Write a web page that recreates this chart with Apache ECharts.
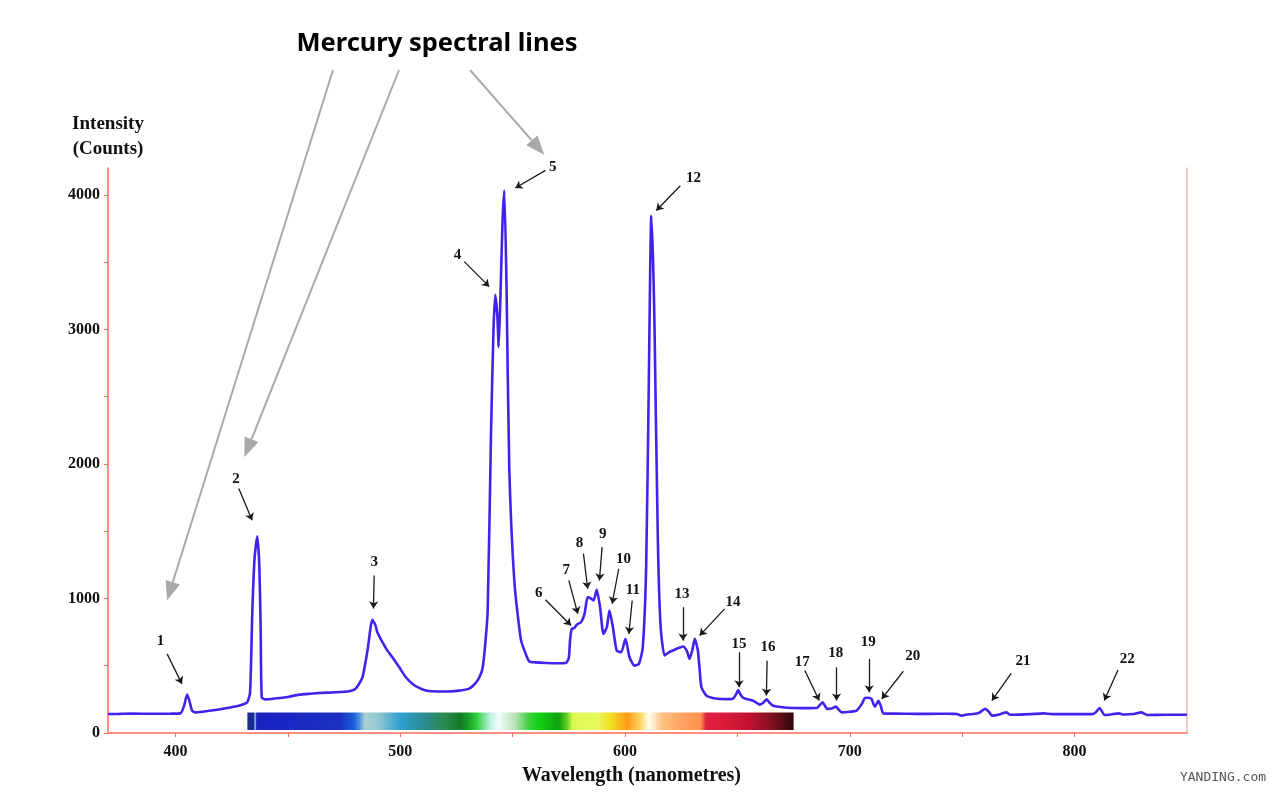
<!DOCTYPE html>
<html>
<head>
<meta charset="utf-8">
<title>Mercury spectral lines</title>
<script src="https://cdn.jsdelivr.net/npm/echarts@6/dist/echarts.min.js"></script>
<style>
  html, body {margin: 0; padding: 0; background: #fff;}
  #chart {width: 1287px; height: 805px;}
</style>
</head>
<body>
<div id="chart"></div>
<script>
// spectrum: wavelength (nm) and intensity (counts)
const wavelength = [
  370, 375, 380.7, 390, 398, 402.2, 403.8, 405.2, 406.2, 407.4, 408.9, 412, 417.8, 423, 428.2, 431.9,
  433.2, 434.2, 435.2, 436.4, 437.3, 437.9, 438.4, 440, 445, 450, 455, 460, 465, 470, 477.2, 480.2,
  483.2, 485.5, 487.6, 489, 489.8, 492.1, 494, 496.5, 499.5, 502.5, 505.5, 508.4, 511, 514.3, 520,
  526.2, 530.7, 533.5, 535.2, 536.6, 537.6, 538.9, 540.4, 541.5, 542.3, 543.2, 543.8, 544.5, 545.5,
  546.3, 547.3, 548.5, 550.8, 553.7, 556, 557.4, 560, 565, 570, 573.8, 575, 575.6, 576.3, 577.5,
  578.3, 579, 580.5, 582, 583.4, 584.9, 586, 587.4, 588.9, 590.4, 591.9, 593.1, 594.6, 596.3, 598.3,
  600.2, 602, 604.2, 606.2, 607.9, 609.4, 610.5, 611.7, 612.5, 613.1, 614.6, 615.8, 617.6, 619.5,
  621.3, 623.5, 625.8, 627.5, 628.7, 630, 631, 632.4, 633.3, 634, 636.2, 639, 642.1, 645, 648, 649.5,
  650.3, 651.2, 652.5, 654, 657, 660, 661.5, 663, 664.3, 665.9, 670, 674.8, 680, 685.2, 686.5, 687.9,
  689, 690, 692, 693.8, 695, 696.4, 700, 703, 705.5, 706.7, 708.2, 709.7, 710.5, 711.2, 712.7, 713.8,
  714.9, 720, 730, 740, 746, 747.6, 749.8, 752, 754.9, 757.5, 760.2, 762, 763.2, 766, 769.6, 771,
  772.8, 780, 786.2, 790, 800, 805.5, 808, 809.5, 811.1, 812.2, 813.2, 816, 819.6, 822, 826.3, 829.6,
  832.3, 840, 850
];
const intensity = [
  141, 142, 144, 143, 144, 146, 200, 285, 240, 166, 153, 158, 171, 186, 203, 228,
  300, 900, 1300, 1462, 1250, 800, 265, 250, 258, 268, 285, 292, 298, 302, 310, 330,
  414, 620, 841, 800, 749, 675, 620, 563, 490, 414, 365, 335, 318, 310, 308,
  315, 330, 370, 414, 480, 620, 905, 2243, 3000, 3257, 3100, 2870, 3200, 3800,
  4032, 3310, 1975, 1119, 692, 580, 531, 525, 520, 518, 522, 560, 700, 774, 780,
  800, 811, 824, 886, 1010, 998, 985, 1065, 935, 737, 786, 911, 786, 613, 600,
  700, 563, 501, 514, 637, 1233, 2500, 3845, 3500, 3043, 1440, 800, 576, 600,
  613, 630, 643, 610, 551, 620, 700, 613, 450, 340, 278, 260, 253, 252, 255, 290,
  320, 290, 262, 253, 240, 211, 225, 250, 225, 203, 192, 186, 185, 186, 205, 228,
  200, 179, 182, 196, 175, 153, 158, 166, 220, 261, 262, 253, 215, 196, 240, 200,
  146, 144, 142, 143, 142, 141, 129, 138, 141, 150, 179, 155, 129, 135, 153, 138,
  136, 140, 146, 140, 140, 141, 140, 155, 186, 160, 134, 138, 146, 138, 141, 153,
  134, 136, 136
];

// numbered lines: where the number sits and where its arrow starts and ends
const peakNames = ['1','2','3','4','5','6','7','8','9','10','11','12','13','14','15','16','17','18','19','20','21','22'];
const labelX = [393.4, 426.9, 488.4, 525.5, 567.8, 561.6, 573.8, 579.7, 590.1, 599.3, 603.5, 630.5, 625.3, 648, 650.7, 663.6, 678.8, 693.7, 708.2, 728, 777, 823.4];
const labelY = [680, 1886, 1268, 3554, 4207, 1039, 1214, 1412, 1482, 1296, 1065, 4128, 1035, 972, 663, 637, 526, 593, 675, 568, 533, 551];
const arrowFromX = [396.3, 428.2, 488.4, 528.5, 564.6, 564.6, 575, 581.5, 589.8, 597.2, 603.2, 624.6, 625.8, 644.3, 650.7, 663.2, 680, 694.1, 708.6, 723.8, 771.8, 819.3];
const arrowFromY = [588, 1817, 1171, 3504, 4182, 990, 1134, 1333, 1382, 1221, 985, 4068, 935, 923, 600, 538, 464, 488, 551, 459, 444, 469];
const arrowToX = [402.9, 434.1, 488.1, 539.6, 551.2, 576, 579, 583.4, 588.6, 594.3, 601.7, 613.9, 625.8, 633.2, 650.7, 662.9, 686.4, 694.1, 708.6, 714.2, 763.2, 813.2];
const arrowToY = [365, 1581, 926, 3318, 4051, 799, 886, 1072, 1134, 961, 737, 3884, 687, 724, 340, 278, 241, 241, 302, 253, 241, 241];

// big grey arrows from the title to lines 1, 2 and 5 (tips in data units)
const mercuryTipX = [396.3, 430.7, 564.1];
const mercuryTipY = [986, 2052, 4299];
const mercuryTailPx = [[333, 70], [399, 70], [470, 70]];

// axis ticks
const xTicks = [400, 450, 500, 550, 600, 650, 700, 750, 800];
const xLabels = [400, 500, 600, 700, 800];
const yTicks = [0, 500, 1000, 1500, 2000, 2500, 3000, 3500, 4000];
const yLabels = [0, 1000, 2000, 3000, 4000];

// colour strip of the visible spectrum under the curve
const stripFrom = [432, 22];
const stripTo = [675, 152];
const stripStops = [0, 0.012, 0.014, 0.017, 0.03, 0.17, 0.195, 0.205, 0.215, 0.24, 0.28, 0.33, 0.36, 0.39, 0.405, 0.42, 0.445, 0.46, 0.49, 0.515, 0.535, 0.57, 0.585, 0.595, 0.64, 0.665, 0.695, 0.72, 0.735, 0.76, 0.8, 0.83, 0.84, 0.88, 0.92, 0.96, 1];
const stripColors = ['#1c2a8c', '#1c2a9a', '#9fd8f0', '#1c24b8', '#1a22c4', '#1c30c0', '#1a60da', '#4a90e0', '#a8d0d0', '#90c8d0', '#30a0d0', '#2a8a88', '#2a8a50', '#127a24', '#18a028', '#30d040', '#c0f0e0', '#f0ffff', '#b8e0b8', '#40d040', '#10d010', '#10a010', '#60d020', '#d8f850', '#e8f860', '#f0e020', '#ff9a18', '#ffd860', '#fffff0', '#ffc080', '#ffa060', '#ff9050', '#e02040', '#d81a3a', '#c01030', '#801020', '#300808'];

const serif = '"Liberation Serif", "Times New Roman", serif';
const chart = echarts.init(document.getElementById('chart'));

const spectrum = wavelength.map((w, i) => [w, intensity[i]]);
const arrows = peakNames.map((n, i) => [
  {coord: [arrowFromX[i], arrowFromY[i]]},
  {coord: [arrowToX[i], arrowToY[i]]}
]);
const labels = peakNames.map((n, i) => [labelX[i], labelY[i], n]);
const strip = new echarts.graphic.LinearGradient(0, 0, 1, 0,
  stripStops.map((s, i) => ({offset: s, color: stripColors[i]})));

chart.setOption({
  animation: false,
  backgroundColor: '#fff',
  grid: {left: 108, right: 100, top: 168, bottom: 72, containLabel: false},
  xAxis: {
    type: 'value', min: 370, max: 850,
    name: 'Wavelength (nanometres)', nameLocation: 'middle', nameGap: 33,
    nameTextStyle: {fontFamily: serif, fontWeight: 'bold', fontSize: 20, color: '#111', padding: [0, 32, 0, 0]},
    axisLine: {show: true, lineStyle: {color: '#ff6b5e', width: 1.5}},
    axisTick: {show: true, length: 4, customValues: xTicks, lineStyle: {color: '#ff6b5e'}},
    axisLabel: {customValues: xLabels, margin: 11, fontFamily: serif, fontWeight: 'bold', fontSize: 16, color: '#111',
      formatter: v => String(v)},
    splitLine: {show: false}
  },
  yAxis: [{
    type: 'value', min: 0, max: 4200,
    name: 'Intensity\n(Counts)', nameLocation: 'end', nameGap: 6,
    nameTextStyle: {fontFamily: serif, fontWeight: 'bold', fontSize: 19, lineHeight: 25, color: '#111', align: 'center'},
    axisLine: {show: true, lineStyle: {color: '#ff6b5e', width: 1.5}},
    axisTick: {show: true, length: 4, customValues: yTicks, lineStyle: {color: '#ff6b5e'}},
    axisLabel: {customValues: yLabels, margin: 8, fontFamily: serif, fontWeight: 'bold', fontSize: 16, color: '#111',
      formatter: v => String(v)},
    splitLine: {show: false}
  }, {
    type: 'value', min: 0, max: 4200, position: 'right',
    axisLine: {show: true, lineStyle: {color: '#ffb4b4', width: 1.5}},
    axisTick: {show: false}, axisLabel: {show: false}, splitLine: {show: false}
  }],
  series: [{
    type: 'line',
    data: spectrum,
    symbol: 'none',
    smooth: 0.2,
    lineStyle: {color: '#4422ee', width: 2.6},
    z: 3,
    markArea: {
      silent: true,
      itemStyle: {color: strip},
      data: [[{coord: stripFrom}, {coord: stripTo}]]
    },
    markLine: {
      silent: true,
      symbol: ['none', 'arrow'],
      symbolSize: 7,
      label: {show: false},
      lineStyle: {color: '#1a1a1a', width: 1.3, type: 'solid', opacity: 1},
      emphasis: {disabled: true},
      data: arrows
    }
  }, {
    type: 'scatter',
    data: labels,
    symbolSize: 0,
    clip: false,
    silent: true,
    itemStyle: {opacity: 1},
    label: {
      show: true, position: 'inside',
      formatter: p => p.value[2],
      fontFamily: serif, fontWeight: 'bold', fontSize: 15, color: '#111'
    }
  }]
});

// grey arrows from the heading, tips placed through the axes
function greyArrow(tail, tip) {
  const dx = tip[0] - tail[0], dy = tip[1] - tail[1];
  const len = Math.sqrt(dx * dx + dy * dy);
  const ux = dx / len, uy = dy / len;
  const head = 19, half = 7.5;
  const bx = tip[0] - ux * head, by = tip[1] - uy * head;
  return [{
    type: 'line', silent: true,
    shape: {x1: tail[0], y1: tail[1], x2: bx, y2: by},
    style: {stroke: '#a9a9a9', lineWidth: 2}
  }, {
    type: 'polygon', silent: true,
    shape: {points: [tip, [bx - uy * half, by + ux * half], [bx + uy * half, by - ux * half]]},
    style: {fill: '#a9a9a9'}
  }];
}

let extras = [{
  type: 'text', x: 437, y: 44, silent: true,
  style: {text: 'Mercury spectral lines', fontFamily: '"Noto Sans", sans-serif', fontWeight: 'bold',
    fontSize: 25.5, fill: '#000', align: 'center', verticalAlign: 'middle'}
}, {
  type: 'text', x: 1223, y: 778, silent: true,
  style: {text: 'YANDING.com', fontFamily: '"DejaVu Sans Mono", monospace', fontSize: 13,
    fill: '#555', align: 'center', verticalAlign: 'middle'}
}];
mercuryTipX.forEach((x, i) => {
  const tip = chart.convertToPixel({gridIndex: 0}, [x, mercuryTipY[i]]);
  extras = extras.concat(greyArrow(mercuryTailPx[i], tip));
});
chart.setOption({graphic: extras});
</script>
</body>
</html>
